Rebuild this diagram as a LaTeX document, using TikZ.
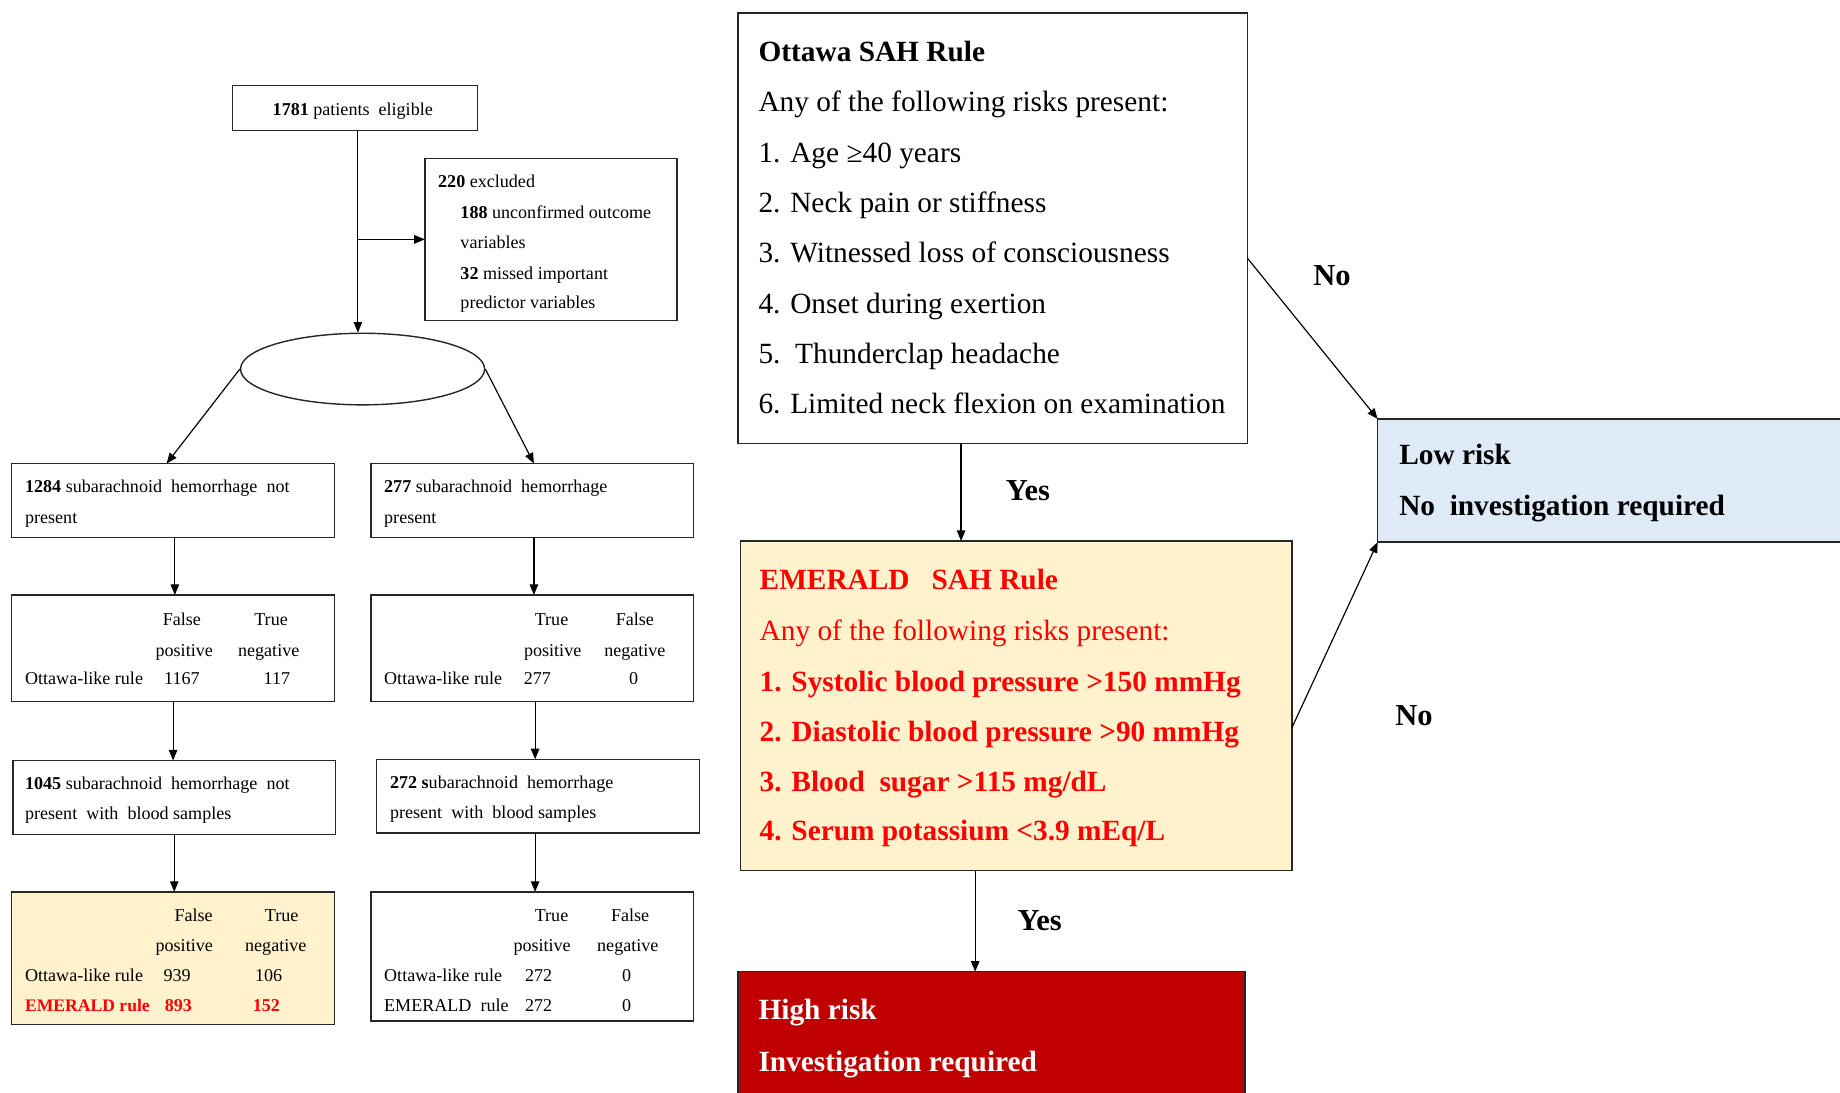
\documentclass[tikz,border=0pt]{standalone}
\usepackage{fontspec}
\setmainfont{Liberation Serif}
\usetikzlibrary{arrows.meta,shapes.geometric}
\definecolor{cream}{HTML}{FFF2CC}
\definecolor{lblue}{HTML}{DEEBF7}
\definecolor{dred}{HTML}{C00000}
\definecolor{rred}{HTML}{FF0000}
\begin{document}
\begin{tikzpicture}[x=0.5pt,y=-0.5pt,
  bx/.style={draw=black!85, line width=0.6pt, anchor=north west, inner sep=0pt, outer sep=0pt},
  arr/.style={-{Triangle[length=4.5pt,width=3.6pt]}, line width=0.5pt},
  sm/.style={font=\fontsize{7.7}{10}\selectfont, inner sep=0pt, anchor=mid west, yshift=-0.75pt},
  smc/.style={font=\fontsize{7.7}{10}\selectfont, inner sep=0pt, anchor=mid, yshift=-0.75pt},
  big/.style={font=\fontsize{12.5}{15}\selectfont, inner sep=0pt, anchor=mid west, yshift=-1.75pt},
  lab/.style={font=\fontsize{13}{15}\selectfont\bfseries, inner sep=0pt, anchor=mid, yshift=-2pt},
]
\useasboundingbox (0,0) rectangle (1568,931);
\clip (0,0) rectangle (1568,931);

% ---------------- left flow ----------------
\node[bx, minimum width=104.5pt, minimum height=19pt] (a) at (198,73) {};
\node[sm] (ta) at (232,92) {\textbf{1781} patients\ \ eligible};

\node[bx, minimum width=107.5pt, minimum height=69pt] (ex) at (362,135) {};
\node[sm] (ex1) at (373,154) {\textbf{220} excluded};
\node[sm] (ex2) at (392,180) {\textbf{188} unconfirmed outcome};
\node[sm] (ex3) at (392,206) {variables};
\node[sm] (ex4) at (392,232) {\textbf{32} missed important};
\node[sm] (ex5) at (392,257) {predictor variables};

\node[draw=black!85, ellipse, line width=0.6pt, minimum width=104pt, minimum height=30.5pt, inner sep=0pt] (ell) at (309,314.5) {};

\node[bx, minimum width=137.5pt, minimum height=31.5pt] (l1) at (10,395) {};
\node[sm] (l1a) at (21,414) {\textbf{1284} subarachnoid\ \ hemorrhage\ \ not};
\node[sm] (l1b) at (21,440) {present};

\node[bx, minimum width=137.5pt, minimum height=31.5pt] (r1) at (316,395) {};
\node[sm] (r1a) at (327,414) {\textbf{277} subarachnoid\ \ hemorrhage};
\node[sm] (r1b) at (327,440) {present};

\node[bx, minimum width=137.5pt, minimum height=45.5pt] (l2) at (10,507) {};
\node[smc] at (155,527) {False};
\node[smc] at (231,527) {True};
\node[smc] at (157,553) {positive};
\node[smc] at (229,553) {negative};
\node[sm] at (21,577) {Ottawa-like rule};
\node[smc] at (155,577) {1167};
\node[smc] at (236,577) {117};

\node[bx, minimum width=137.5pt, minimum height=45.5pt] (r2) at (316,507) {};
\node[smc] at (470,527) {True};
\node[smc] at (541,527) {False};
\node[smc] at (471,553) {positive};
\node[smc] at (541,553) {negative};
\node[sm] at (327,577) {Ottawa-like rule};
\node[smc] at (458,577) {277};
\node[smc] at (540,577) {0};

\node[bx, minimum width=137.5pt, minimum height=31.5pt] (l3) at (11,648) {};
\node[sm] at (21,667) {\textbf{1045} subarachnoid\ \ hemorrhage\ \ not};
\node[sm] at (21,692) {present\ \ with\ \ blood samples};

\node[bx, minimum width=137.5pt, minimum height=31.5pt] (r3) at (321,647) {};
\node[sm] at (332,666) {\textbf{272 s}ubarachnoid\ \ hemorrhage};
\node[sm] at (332,691) {present\ \ with\ \ blood samples};

\node[bx, fill=cream, minimum width=137.5pt, minimum height=56.5pt] (l4) at (10,760) {};
\node[smc] at (165,779) {False};
\node[smc] at (240,779) {True};
\node[smc] at (157,805) {positive};
\node[smc] at (235,805) {negative};
\node[sm] at (21,830) {Ottawa-like rule};
\node[smc] at (151,830) {939};
\node[smc] at (229,830) {106};
\node[sm, text=rred, font=\fontsize{7.5}{10}\selectfont\bfseries] at (21,856) {EMERALD rule};
\node[smc, text=rred, font=\fontsize{7.7}{10}\selectfont\bfseries] at (152,856) {893};
\node[smc, text=rred, font=\fontsize{7.7}{10}\selectfont\bfseries] at (227,856) {152};

\node[bx, minimum width=137.5pt, minimum height=55pt] (r4) at (316,760) {};
\node[smc] at (470,779) {True};
\node[smc] at (537,779) {False};
\node[smc] at (462,805) {positive};
\node[smc] at (535,805) {negative};
\node[sm] at (327,830) {Ottawa-like rule};
\node[smc] at (459,830) {272};
\node[smc] at (534,830) {0};
\node[sm] at (327,856) {EMERALD\ \ rule};
\node[smc] at (459,856) {272};
\node[smc] at (534,856) {0};

% left connectors
\draw[arr] ([xshift=1.25pt]a.south) -- ([xshift=1.25pt]a.south |- ell.north);
\draw[arr] ([xshift=1.25pt]a.south |- ex.west) -- (ex.west);
\draw[arr] (ell.west) -- ([xshift=-2.75pt]l1.north);
\draw[arr] (ell.east) -- ([xshift=0.75pt]r1.north);
\draw[arr] ([xshift=0.75pt]l1.south) -- ([xshift=0.75pt]l1.south |- l2.north);
\draw[arr] ([xshift=0.75pt]r1.south) -- ([xshift=0.75pt]r1.south |- r2.north);
\draw[arr] (l2.south) -- (l2.south |- l3.north);
\draw[arr] ([xshift=1.25pt]r2.south) -- ([xshift=1.25pt]r2.south |- r3.north);
\draw[arr] (l3.south) -- (l3.south |- l4.north);
\draw[arr] ([xshift=-1.25pt]r3.south) -- ([xshift=-1.25pt]r3.south |- r4.north);

% ---------------- right flow ----------------
\node[bx, minimum width=217pt, minimum height=183.5pt] (ott) at (629,11) {};
\node[big, font=\fontsize{12.5}{15}\selectfont\bfseries] at (646,44) {Ottawa SAH Rule};
\node[big] at (646,87) {Any of the following risks present:};
\node[big] at (646,130) {1. Age ≥40 years};
\node[big] at (646,173) {2. Neck pain or stiffness};
\node[big] at (646,216) {3. Witnessed loss of consciousness};
\node[big] at (646,259) {4. Onset during exertion};
\node[big] at (646,302) {5.\ \ Thunderclap headache};
\node[big] at (646,344) {6. Limited neck flexion on examination};

\node[bx, fill=cream, minimum width=235pt, minimum height=140.5pt] (eme) at (631,461) {};
\node[big, text=rred, font=\fontsize{12.5}{15}\selectfont\bfseries] at (647,494) {EMERALD\ \ \ SAH Rule};
\node[big, text=rred] at (647,538) {Any of the following risks present:};
\node[big, text=rred, font=\fontsize{12.5}{15}\selectfont\bfseries] at (647,581) {1. Systolic blood pressure >150 mmHg};
\node[big, text=rred, font=\fontsize{12.5}{15}\selectfont\bfseries] at (647,624) {2. Diastolic blood pressure >90 mmHg};
\node[big, text=rred, font=\fontsize{12.5}{15}\selectfont\bfseries] at (647,666) {3. Blood\ \ sugar >115 mg/dL};
\node[big, text=rred, font=\fontsize{12.5}{15}\selectfont\bfseries] at (647,708) {4. Serum potassium <3.9 mEq/L};

\node[bx, fill=lblue, minimum width=210pt, minimum height=52.5pt] (low) at (1174,357) {};
\node[big, font=\fontsize{12.5}{15}\selectfont\bfseries] at (1192,388) {Low risk};
\node[big, font=\fontsize{12.5}{15}\selectfont\bfseries] at (1192,431) {No\ \ investigation required};

\node[bx, fill=dred, minimum width=216pt, minimum height=60pt] (high) at (629,828) {};
\node[big, text=white, font=\fontsize{12.5}{15}\selectfont\bfseries] at (646,861) {High risk};
\node[big, text=white, font=\fontsize{12.5}{15}\selectfont\bfseries] at (646,905) {Investigation required};

% right connectors
\draw[arr] ([xshift=-13.5pt]ott.south) -- ([xshift=-13.5pt]ott.south |- eme.north);
\draw[arr] ([xshift=-17.5pt]eme.south) -- ([xshift=-17.5pt]eme.south |- high.north);
\draw[arr] ([yshift=-12.75pt]ott.east) -- (low.north west);
\draw[arr] ([yshift=-9.25pt]eme.east) -- (low.south west);

\node[lab] (y1) at (876,418) {Yes};
\node[lab] (y2) at (886,784) {Yes};
\node[lab] (n1) at (1135,235) {No};
\node[lab] (n2) at (1205,610) {No};
\end{tikzpicture}
\end{document}
